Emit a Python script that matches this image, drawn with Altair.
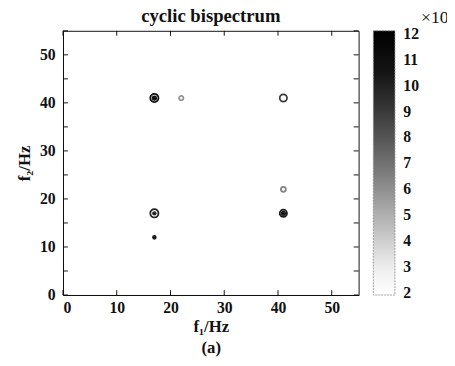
import altair as alt
import pandas as pd

# data
f1 = [17, 22, 41, 17, 41, 41, 17]
f2 = [41, 41, 41, 17, 17, 22, 12]
amp = [11.5, 6.0, 9.5, 10.5, 11.0, 6.5, 11.0]
ring = [70, 20, 55, 70, 55, 25, 8]
core = [30, 0, 0, 20, 30, 0, 8]

x_ticks = [0, 10, 20, 30, 40, 50]
y_ticks = [0, 5, 10, 15, 20, 25, 30, 35, 40, 45, 50, 55]
cbar_ticks = [2, 3, 4, 5, 6, 7, 8, 9, 10, 11, 12]
cbar_lo = [1.9]
cbar_hi = [12.1]

W, H = 301, 269
FONT = "Liberation Serif"
INK = "#111"

df = pd.DataFrame({"f1": f1, "f2": f2, "amp": amp, "ring": ring, "core": core})
dfx = pd.DataFrame({"t": x_ticks})
dfy = pd.DataFrame({"t": y_ticks})
dfc = pd.DataFrame({"lo": cbar_lo, "hi": cbar_hi})

xs = alt.Scale(domain=[0, 55], nice=False, zero=False)
ys = alt.Scale(domain=[0, 55], nice=False, zero=False)
cs = alt.Scale(domain=[2, 12], range=["#ffffff", "#000000"])
cbs = alt.Scale(domain=[cbar_lo[0], cbar_hi[0]], nice=False, zero=False)

xaxis = alt.Axis(values=x_ticks, ticks=False, grid=False, labelPadding=5,
                 title=["f\u2081/Hz", "(a)"], titleLineHeight=22, titlePadding=3)
yaxis = alt.Axis(values=y_ticks, ticks=False, grid=False, labelPadding=8,
                 title="f\u2082/Hz", titlePadding=6)
cbaxis = alt.Axis(orient="right", offset=37, values=cbar_ticks, ticks=False, domain=False,
                  grid=False, labelPadding=8, labelFontSize=16, labelFont=FONT,
                  labelFontWeight="bold", labelColor=INK,
                  title="\u00d710\u2074", titleAngle=0, titleAlign="left", titleBaseline="bottom",
                  titleX=26, titleY=-4, titleFont=FONT, titleFontWeight="normal",
                  titleFontSize=18, titleColor=INK)

base = alt.Chart(df)

rings = base.mark_point(shape="circle", filled=False, strokeWidth=1.8, opacity=1).encode(
    x=alt.X("f1:Q", scale=xs, axis=xaxis),
    y=alt.Y("f2:Q", scale=ys, axis=yaxis),
    stroke=alt.Stroke("amp:Q", scale=cs, legend=None),
    size=alt.Size("ring:Q", scale=None, legend=None),
)

cores = base.transform_filter("datum.core > 0").mark_point(shape="circle", filled=True, opacity=1, strokeWidth=0).encode(
    x=alt.X("f1:Q", scale=xs),
    y=alt.Y("f2:Q", scale=ys),
    fill=alt.Fill("amp:Q", scale=cs, legend=None),
    size=alt.Size("core:Q", scale=None, legend=None),
)

tick_len = 5
bottom = alt.Chart(dfx).mark_rule(color=INK).encode(x=alt.X("t:Q", scale=xs), y=alt.value(H), y2=alt.value(H - tick_len))
top = alt.Chart(dfx).mark_rule(color=INK).encode(x=alt.X("t:Q", scale=xs), y=alt.value(0), y2=alt.value(tick_len))
left = alt.Chart(dfy).mark_rule(color=INK).encode(y=alt.Y("t:Q", scale=ys), x=alt.value(0), x2=alt.value(tick_len))
right = alt.Chart(dfy).mark_rule(color=INK).encode(y=alt.Y("t:Q", scale=ys), x=alt.value(W), x2=alt.value(W - tick_len))

main = alt.layer(rings, cores, bottom, top, left, right)

grad = alt.Gradient(gradient="linear", x1=0, y1=1, x2=0, y2=0,
                    stops=[alt.GradientStop(color="#ffffff", offset=0),
                           alt.GradientStop(color="#ececec", offset=0.11),
                           alt.GradientStop(color="#b0b0b0", offset=0.3),
                           alt.GradientStop(color="#707070", offset=0.5),
                           alt.GradientStop(color="#383838", offset=0.7),
                           alt.GradientStop(color="#151515", offset=0.84),
                           alt.GradientStop(color="#000000", offset=1)])

cbar = alt.Chart(dfc).mark_rect(fill=grad, stroke="#888", strokeWidth=0.8, strokeDash=[2, 1]).encode(
    x=alt.value(W + 15), x2=alt.value(W + 37),
    y=alt.Y("lo:Q", scale=cbs, axis=cbaxis),
    y2="hi:Q",
)

chart = alt.layer(main, cbar).resolve_scale(y="independent").resolve_axis(y="independent").properties(
    width=W, height=H,
    background="white",
    autosize=alt.AutoSizeParams(type="none"),
    title=alt.TitleParams("cyclic bispectrum", font=FONT, fontSize=19, fontWeight="bold", color=INK,
                          offset=-17, frame="group"),
    padding={"left": 56, "top": 20, "right": 90, "bottom": 66},
).configure_view(stroke=INK, strokeWidth=1).configure_axis(
    labelFont=FONT, labelFontSize=16, labelFontWeight="bold", labelColor=INK,
    titleFont=FONT, titleFontSize=17, titleFontWeight="bold", titleColor=INK,
    domainColor=INK, domainWidth=1,
)

chart.save("out.html", embed_options={"renderer": "svg", "actions": False})
